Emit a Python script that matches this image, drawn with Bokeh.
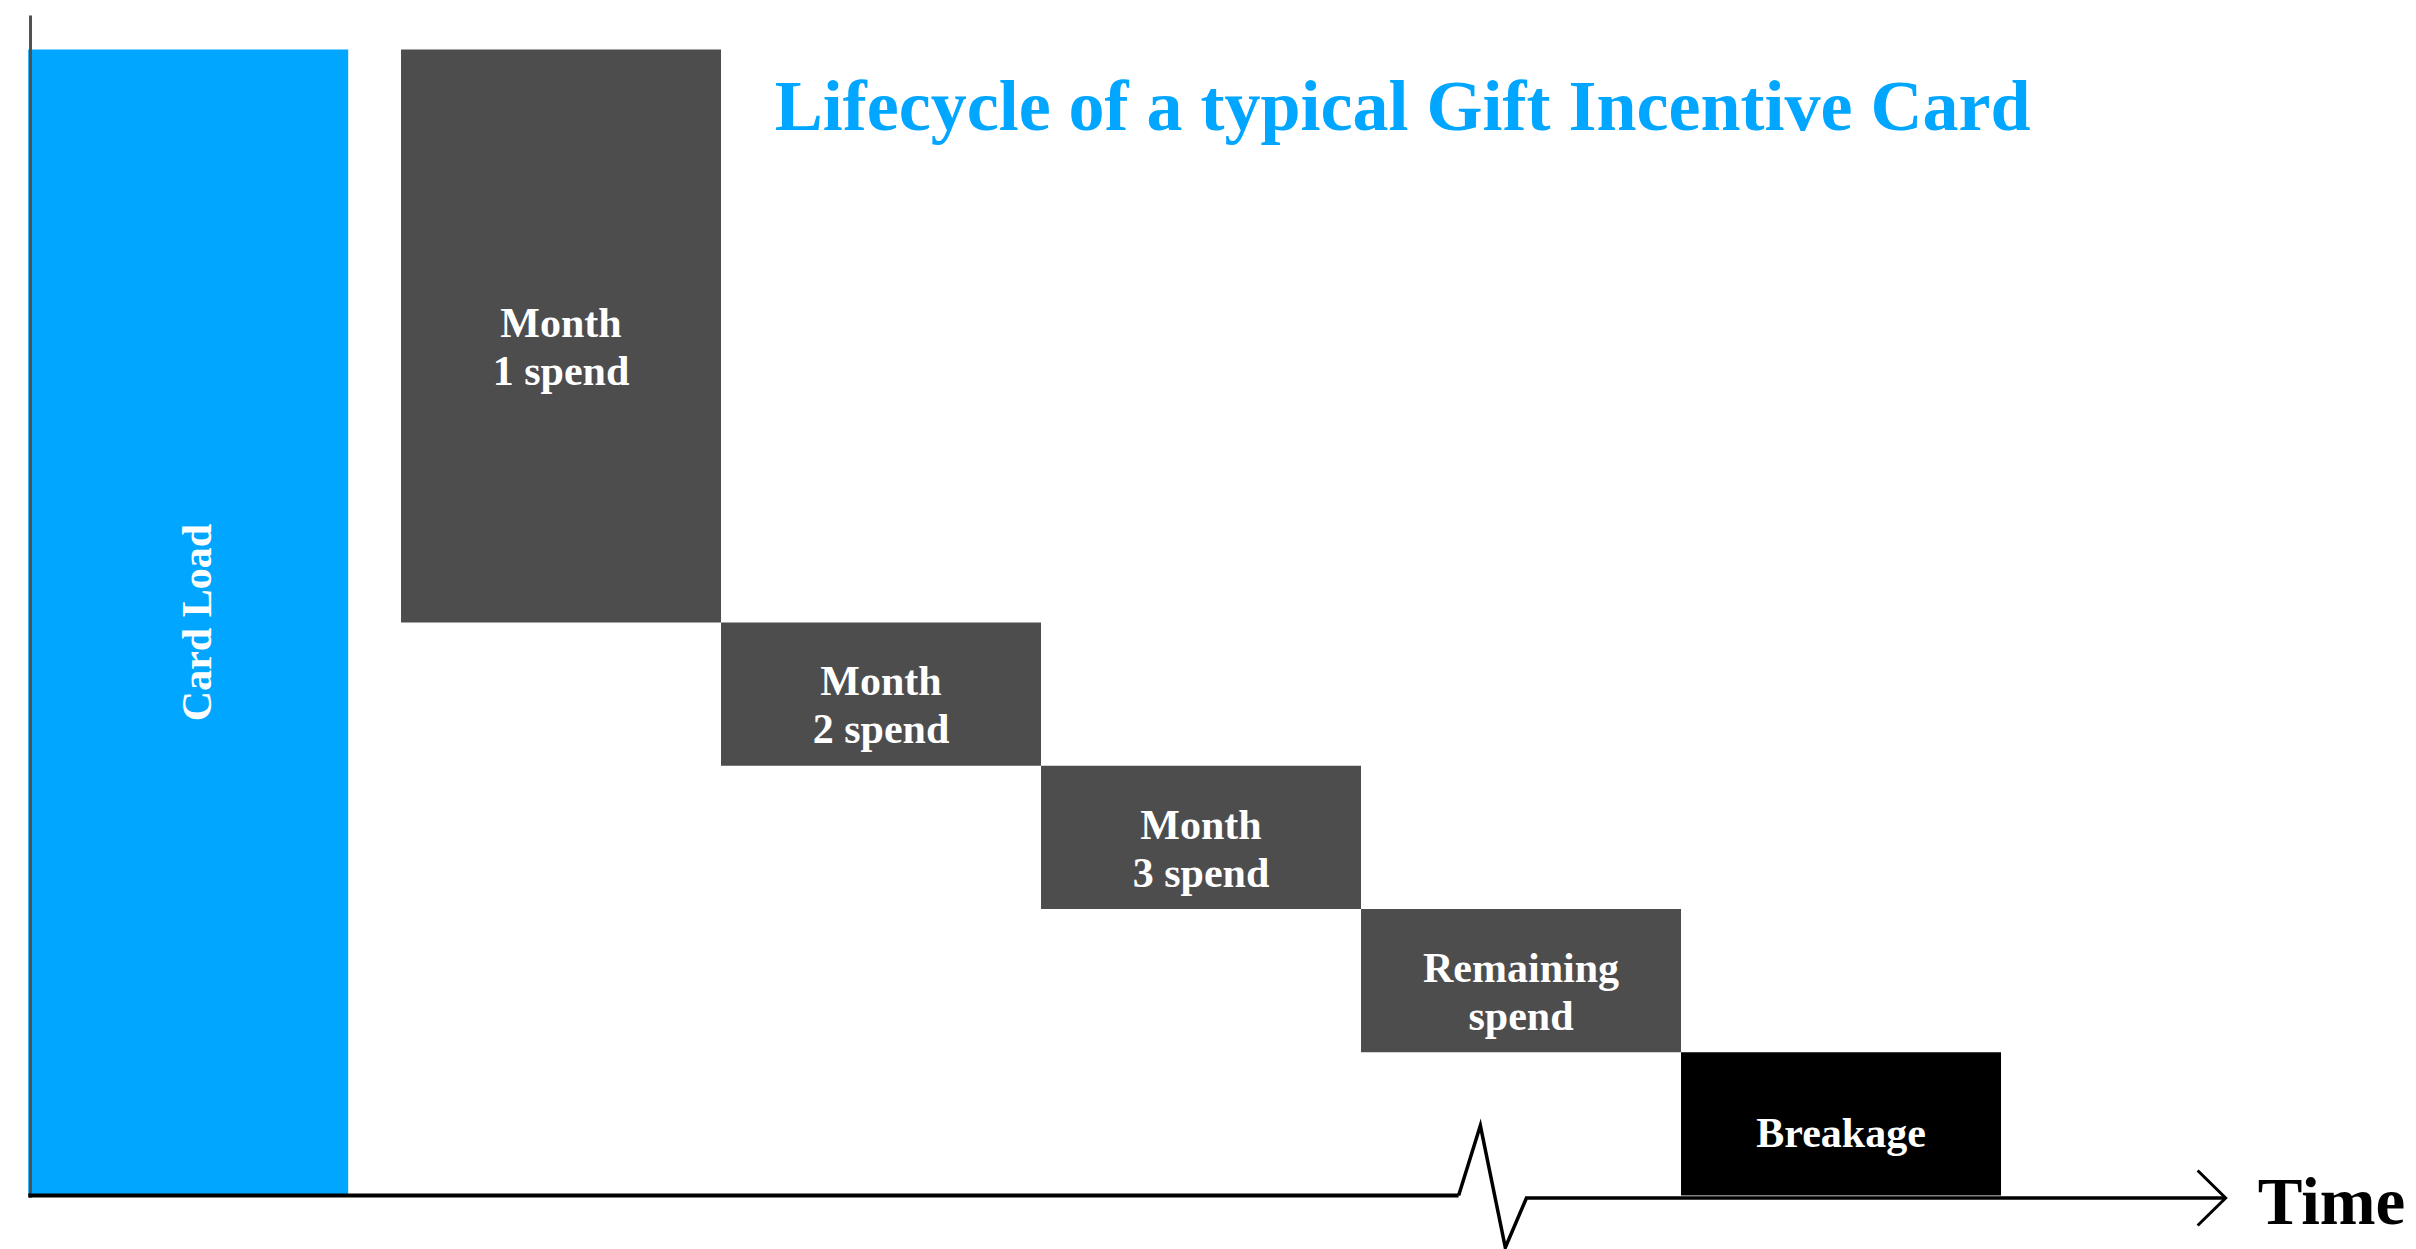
import math
from bokeh.plotting import figure
from bokeh.models import Range1d, ColumnDataSource
from bokeh.core.properties import value
from bokeh.embed import file_html
from bokeh.resources import INLINE

# ---------------- data ----------------
categories = ["Card Load", "Month 1 spend", "Month 2 spend", "Month 3 spend",
              "Remaining spend", "Breakage"]
label_line1 = ["Card Load", "Month", "Month", "Month", "Remaining", "Breakage"]
label_line2 = ["", "1 spend", "2 spend", "3 spend", "spend", ""]
amounts = [100, 50, 12.5, 12.5, 12.5, 12.5]
bar_colors = ["#00A6FF", "#4D4D4D", "#4D4D4D", "#4D4D4D", "#4D4D4D", "#000000"]
title_text = "Lifecycle of a typical Gift Incentive Card"
axis_text = "Time"

# ---------------- layout ----------------
W, H = 2416, 1249
X0, X1 = -0.0866, 7.4634
Y0, Y1 = -4.71, 104.28
PX = (X1 - X0) / W          # data units per screen pixel (x)
PY = (Y1 - Y0) / H          # data units per screen pixel (y)
GAP = 0.165
BASE_FIX = 0.35             # baseline compensation (fraction of font size)

lefts = [0.0] + [1.0 + GAP + (i - 1) for i in range(1, len(amounts))]
rights = [l + 1.0 for l in lefts]
tops, bottoms = [amounts[0]], [0.0]
level = amounts[0]
for a in amounts[1:]:
    tops.append(level)
    level -= a
    bottoms.append(level)

src = ColumnDataSource(dict(left=lefts, right=rights, top=tops, bottom=bottoms,
                            color=bar_colors, cat=categories))

p = figure(width=W, height=H, output_backend="svg", toolbar_location=None,
           x_range=Range1d(X0, X1), y_range=Range1d(Y0, Y1),
           x_axis_location=None, y_axis_location=None,
           min_border=0, min_border_left=0, min_border_right=0,
           min_border_top=0, min_border_bottom=0)
p.outline_line_color = None
p.xgrid.visible = False
p.ygrid.visible = False
p.background_fill_color = "white"
p.border_fill_color = "white"

p.quad(left="left", right="right", top="top", bottom="bottom", source=src,
       fill_color="color", line_color=None)

FONT = value("Liberation Serif")

# vertical axis line (gray)
p.line([lefts[0] + 2.3 * PX] * 2, [-0.2, Y1 - 15 * PY],
       line_color="#505050", line_width=3)

# horizontal axis with break, and arrow
rem_left = lefts[4]
bx = [rem_left + 0.305, rem_left + 0.373, rem_left + 0.451, rem_left + 0.517]
p.line([lefts[0], bx[0]], [0, 0], line_color="black", line_width=4)
tip_x = rights[5] + 0.702
axis_y2 = -0.22
p.line([bx[0], bx[1], bx[2], bx[3], tip_x],
       [0, 70 * PY, -52 * PY, axis_y2, axis_y2],
       line_color="black", line_width=3.5, line_join="miter")
p.line([tip_x - 28 * PX, tip_x, tip_x - 28 * PX],
       [axis_y2 + 27.5 * PY, axis_y2, axis_y2 - 27.5 * PY],
       line_color="black", line_width=3, line_join="miter")

TIME_FS = 67
p.text(x=[tip_x + 32 * PX], y=[axis_y2 - (26 - BASE_FIX * TIME_FS) * PY],
       text=[axis_text],
       text_font=FONT, text_font_size=f"{TIME_FS}px", text_font_style="bold",
       text_color="black", text_align="left", text_baseline="alphabetic")

# title
TITLE_FS = 72
p.text(x=[4.295], y=[92.84 + BASE_FIX * TITLE_FS * PY], text=[title_text],
       text_font=FONT, text_font_size=f"{TITLE_FS}px", text_font_style="bold",
       text_color="#00A6FF", text_align="center", text_baseline="alphabetic")

# bar labels
LAB_FS = 42
centers_x = [(l + r) / 2 for l, r in zip(lefts, rights)]
centers_y = [(t + b) / 2 for t, b in zip(tops, bottoms)]

# Card Load (vertical)
p.text(x=[centers_x[0] + 9 * PX], y=[centers_y[0]], text=[label_line1[0]],
       angle=math.pi / 2, text_font=FONT, text_font_size=f"{LAB_FS}px",
       text_font_style="bold", text_color="white",
       text_align="center", text_baseline="middle")

fix = BASE_FIX * LAB_FS * PY
xs1, ys1, t1 = [], [], []
for i in range(1, len(categories)):
    if label_line2[i]:
        xs1 += [centers_x[i], centers_x[i]]
        ys1 += [centers_y[i] + fix - 2 * PY, centers_y[i] - 48 * PY + fix - 2 * PY]
        t1 += [label_line1[i], label_line2[i]]
    else:
        xs1.append(centers_x[i])
        ys1.append(centers_y[i] - 24 * PY + fix)
        t1.append(label_line1[i])
p.text(x=xs1, y=ys1, text=t1, text_font=FONT, text_font_size=f"{LAB_FS}px",
       text_font_style="bold", text_color="white",
       text_align="center", text_baseline="alphabetic")

open("out.html", "w").write(file_html(p, INLINE))
